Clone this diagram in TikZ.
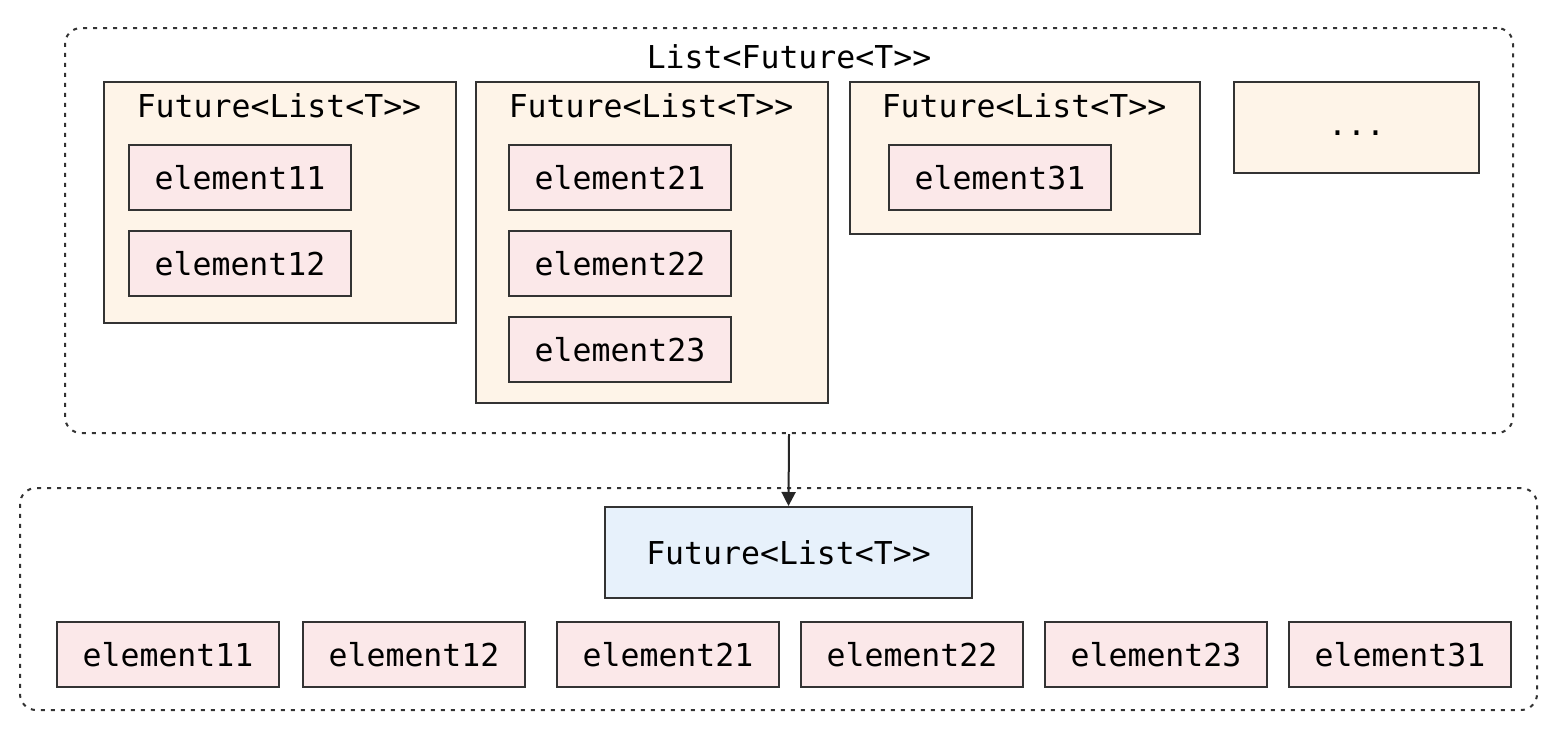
\documentclass[tikz,border=0pt]{standalone}
\usepackage{fontspec}
\setmonofont{DejaVu Sans Mono}
\usetikzlibrary{arrows.meta,positioning}
\definecolor{futfill}{HTML}{FEF4E8}
\definecolor{elfill}{HTML}{FBE8E9}
\definecolor{resfill}{HTML}{E7F1FB}
\definecolor{edge}{HTML}{333333}
\tikzset{
    x=1pt, y=-1pt,
    mono/.style={font=\ttfamily\fontsize{31.5}{38}\selectfont, text=black},
    group/.style={draw=edge,line width=2pt,dash pattern=on 4pt off 6pt,rounded corners=16pt,inner sep=0pt},
    future/.style={draw=edge,fill=futfill,line width=2pt,inner sep=0pt,anchor=north west},
    elem/.style={mono,draw=edge,fill=elfill,line width=2pt,minimum width=222pt,minimum height=65pt,inner sep=0pt},
    result/.style={mono,draw=edge,fill=resfill,line width=2pt,minimum width=367pt,minimum height=91pt,inner sep=0pt},
    title/.style={mono,inner sep=0pt},
    pre/.style={-{Triangle[width=14pt,length=14pt]},line width=2pt,draw=black!85}
}
\begin{document}
\begin{tikzpicture}
    \useasboundingbox (0,0) rectangle (1562,736);

    % upper group: List<Future<T>>
    \node[group, minimum width=1448pt, minimum height=405pt] (outer top) at (789,230.5) {};
    \node[title] (outer top title) at (789,57) {List<Future<T>>};

    \node[future, minimum width=352pt, minimum height=241pt] (fut a) at (103,81) {};
    \node[title] (fut a title) at (279,106) {Future<List<T>>};
    \node[elem] (el 11) at (240,177.5) {element11};
    \node[elem] (el 12) [below=19pt of el 11] {element12};

    \node[future, minimum width=352pt, minimum height=321pt] (fut b) at (475,81) {};
    \node[title] (fut b title) at (651,106) {Future<List<T>>};
    \node[elem] (el 21) at (620,177.5) {element21};
    \node[elem] (el 22) [below=19pt of el 21] {element22};
    \node[elem] (el 23) [below=19pt of el 22] {element23};

    \node[future, minimum width=350pt, minimum height=152pt] (fut c) at (849,81) {};
    \node[title] (fut c title) at (1024,106) {Future<List<T>>};
    \node[elem] (el 31) at (1000,177.5) {element31};

    \node[future, mono, minimum width=245pt, minimum height=91pt, text height=22pt, text depth=6pt] (fut d) at (1233,81) {...};

    % lower group: Future<List<T>>
    \node[group, minimum width=1517pt, minimum height=222pt] (outer bottom) at (778.5,599) {};
    \node[result] (res) at (788.5,552.5) {Future<List<T>>};

    \node[elem] (res 11) at (168,654.5)  {element11};
    \node[elem] (res 12) at (414,654.5)  {element12};
    \node[elem] (res 21) at (668,654.5)  {element21};
    \node[elem] (res 22) at (912,654.5)  {element22};
    \node[elem] (res 23) at (1156,654.5) {element23};
    \node[elem] (res 31) at (1400,654.5) {element31};

    \draw[pre] (outer top.south) -- (res.north);
\end{tikzpicture}
\end{document}
